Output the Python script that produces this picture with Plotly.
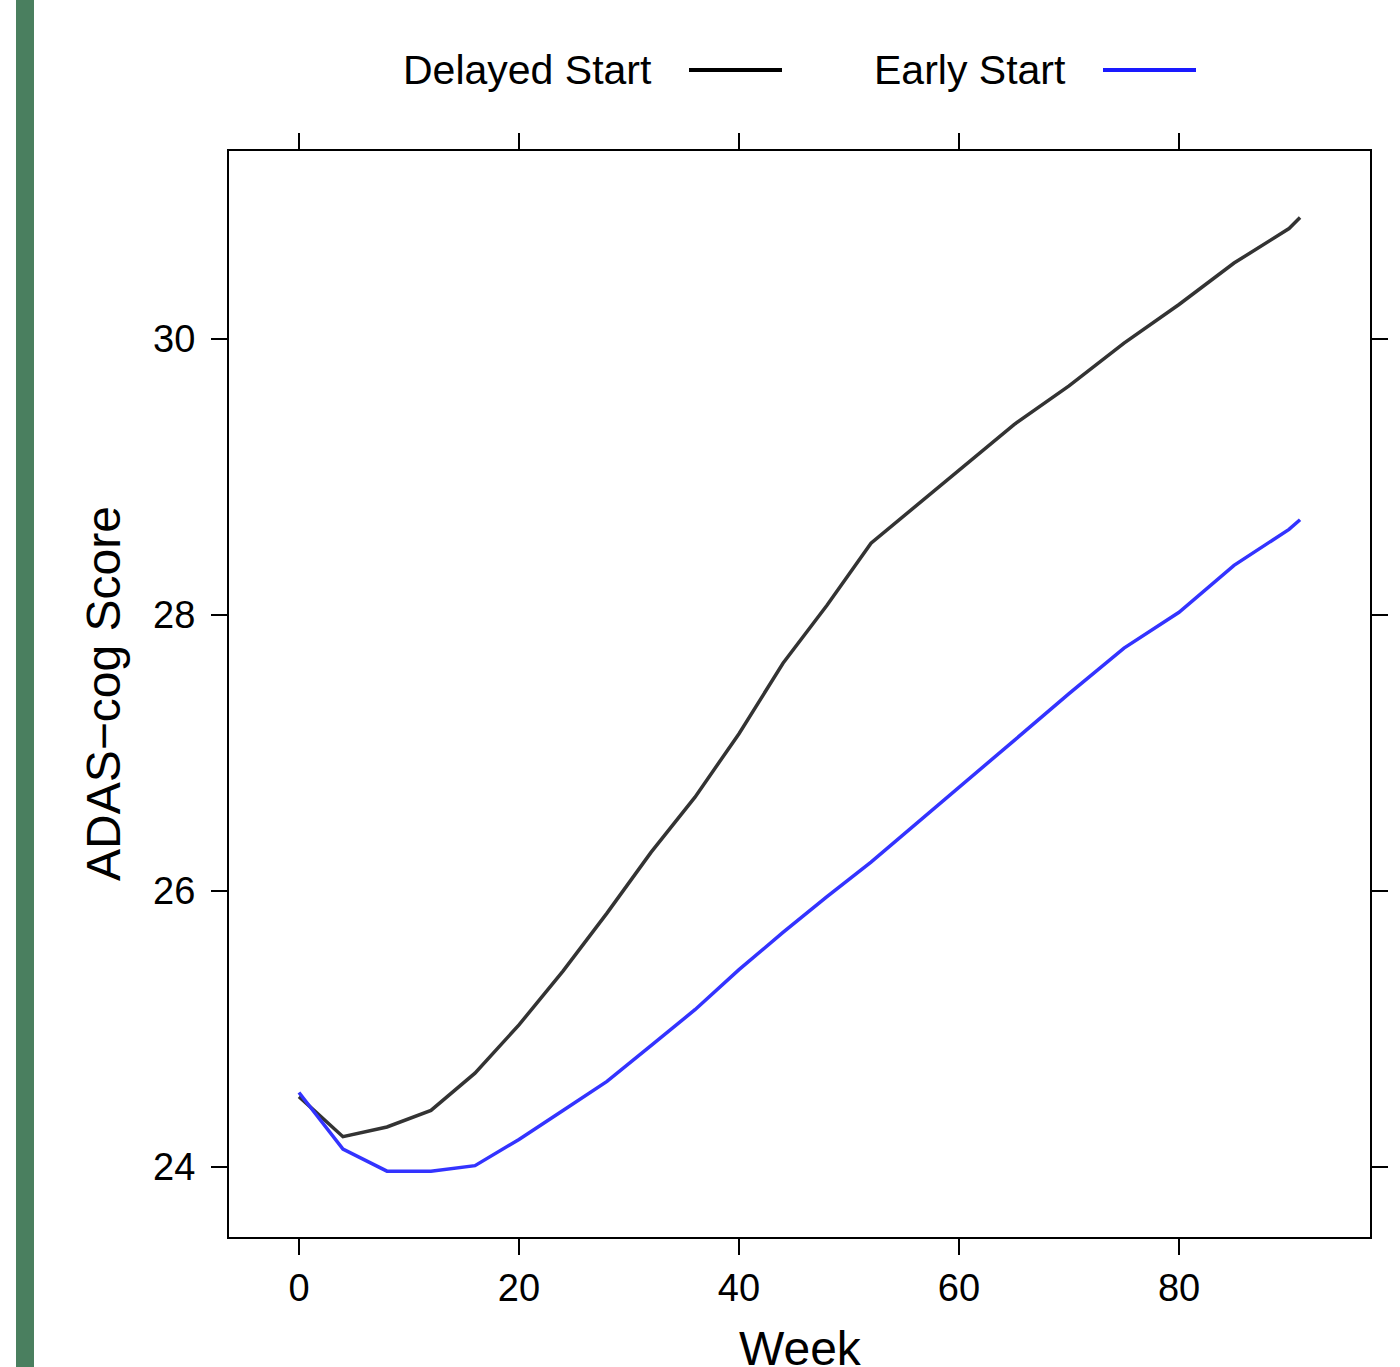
import plotly.graph_objects as go

weeks = [0, 4, 8, 12, 16, 20, 24, 28, 32, 36, 40, 44, 48, 52, 65, 70, 75, 80, 85, 90, 91]
delayed_start = [24.51, 24.22, 24.29, 24.41, 24.68, 25.03, 25.42, 25.84, 26.28, 26.68,
                 27.14, 27.65, 28.07, 28.52, 29.38, 29.66, 29.97, 30.25, 30.55, 30.80, 30.88]
early_start = [24.54, 24.13, 23.97, 23.97, 24.01, 24.20, 24.41, 24.62, 24.88, 25.14,
               25.43, 25.70, 25.96, 26.21, 27.09, 27.43, 27.76, 28.02, 28.36, 28.62, 28.69]

x_ticks = [0, 20, 40, 60, 80]
y_ticks = [24, 26, 28, 30]

# page body margin is removed by the post script, so no offset is needed
OFF = 0
W, H = 1400 - OFF, 1367 - OFF
L, R, T, B = 229 - OFF, 1370 - OFF, 151 - OFF, 1237 - OFF
FONT = "Liberation Sans, Arial, Helvetica, sans-serif"


def px(x):
    # page pixel x -> paper coordinate
    return (x - OFF - L) / (R - L)


def py(y):
    # page pixel y -> paper coordinate
    return (B - (y - OFF)) / (B - T)


fig = go.Figure()
fig.add_trace(go.Scatter(x=weeks, y=delayed_start, mode="lines", name="Delayed Start",
                         line=dict(color="#333333", width=3.5)))
fig.add_trace(go.Scatter(x=weeks, y=early_start, mode="lines", name="Early Start",
                         line=dict(color="#3333ff", width=3.5)))

axis_common = dict(showline=True, linecolor="black", linewidth=2, mirror="ticks",
                   ticks="outside", ticklen=16, tickwidth=2, tickcolor="black",
                   showgrid=False, zeroline=False,
                   tickfont=dict(family=FONT, size=38, color="black"))

fig.update_xaxes(range=[-6.36, 97.36], tickvals=x_ticks, ticktext=[str(v) for v in x_ticks],
                 **axis_common)
fig.update_yaxes(range=[23.493, 31.362], tickvals=y_ticks, ticktext=[str(v) for v in y_ticks],
                 ticklabelstandoff=8, **axis_common)

shapes = [
    dict(type="rect", xref="paper", yref="paper", x0=px(16), x1=px(34), y0=py(1400), y1=py(-20),
         fillcolor="#4a7f5f", line=dict(width=0), layer="above"),
    dict(type="line", xref="paper", yref="paper", x0=px(689), x1=px(782), y0=py(70), y1=py(70),
         line=dict(color="black", width=4)),
    dict(type="line", xref="paper", yref="paper", x0=px(1103), x1=px(1196), y0=py(70), y1=py(70),
         line=dict(color="#1a1aff", width=4)),
]

annotations = [
    dict(text="Delayed Start", xref="paper", yref="paper", x=px(654), y=py(70),
         xanchor="right", yanchor="middle", showarrow=False,
         font=dict(family=FONT, size=41, color="black")),
    dict(text="Early Start", xref="paper", yref="paper", x=px(1068), y=py(70),
         xanchor="right", yanchor="middle", showarrow=False,
         font=dict(family=FONT, size=41, color="black")),
    dict(text="Week", xref="paper", yref="paper", x=px(800), y=py(1348),
         xanchor="center", yanchor="middle", showarrow=False,
         font=dict(family=FONT, size=48, color="black")),
    dict(text="ADAS\u2212cog Score", xref="paper", yref="paper", x=px(103), y=py(694),
         xanchor="center", yanchor="middle", showarrow=False, textangle=-90,
         font=dict(family=FONT, size=48, color="black")),
]

fig.update_layout(width=W, height=H, margin=dict(l=L, r=W - R, t=T, b=H - B),
                  plot_bgcolor="white", paper_bgcolor="white", showlegend=False,
                  shapes=shapes, annotations=annotations)

fig.write_html("out.html", config={"displayModeBar": False},
               post_script="document.body.style.margin='0';document.body.style.overflow='hidden';")
